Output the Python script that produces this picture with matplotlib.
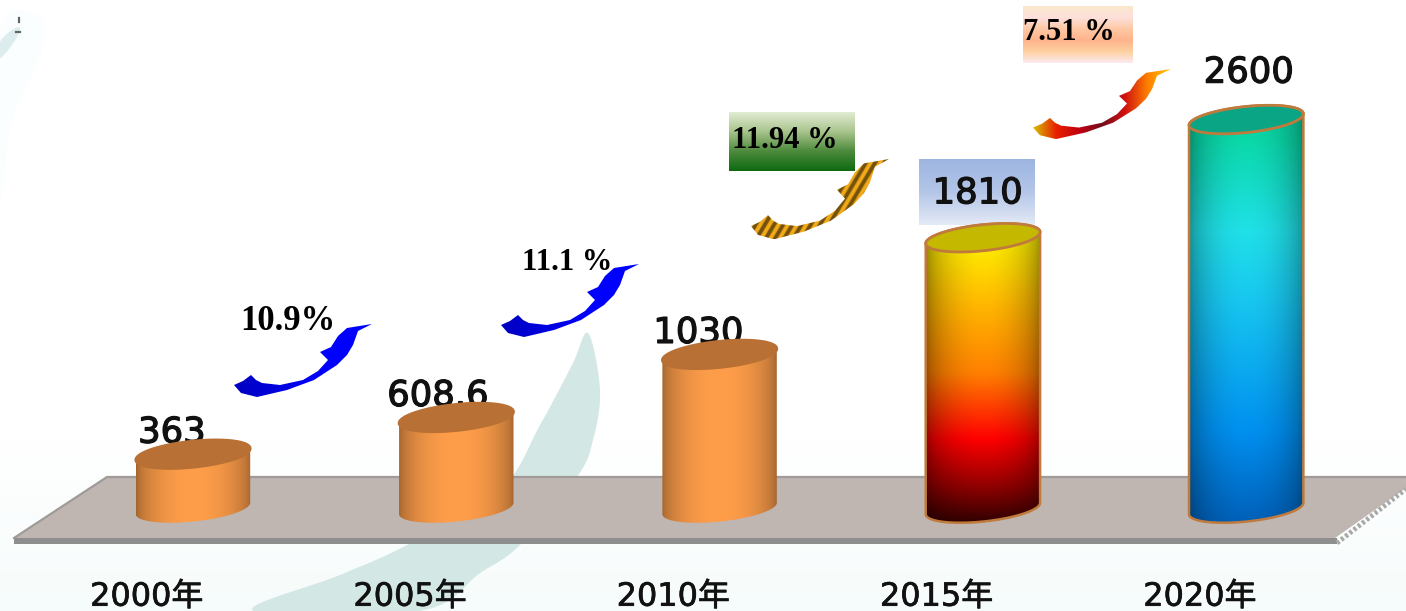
import numpy as np
import matplotlib
matplotlib.use("Agg")
import matplotlib.pyplot as plt
import matplotlib.patheffects as pe
from matplotlib.colors import LinearSegmentedColormap, to_rgb
from matplotlib.patches import Polygon

plt.rcParams['font.family'] = ['DejaVu Sans', 'Noto Sans CJK SC']

# Chart data
years = ["2000年", "2005年", "2010年", "2015年", "2020年"]
values = [363, 608.6, 1030, 1810, 2600]
value_labels = ["363", "608.6", "1030", "1810", "2600"]
rate_labels = ["10.9%", "11.1 %", "11.94 %", "7.51 %"]

W, H = 1406, 611
X0, X_STEP = 193, 263.3      # pixel of first bar, pixels per category
Y0, Y_SCALE = 508.5, 0.1496  # pixel of value 0, pixels per unit

fig = plt.figure(figsize=(W / 100, H / 100), dpi=100, facecolor="white")

# background layer in pixel units
bg = fig.add_axes([0, 0, 1, 1], zorder=0)
bg.axis("off")

# chart layer, scaled by category and value
ax = fig.add_axes([0, 0, 1, 1], zorder=1)
ax.patch.set_alpha(0)
ax.axis("off")


def smooth(pts, n=8):
    # closed Catmull-Rom through the outline points
    p = np.array(pts, dtype=float)
    out = []
    for i in range(len(p)):
        a, b, c, d = p[i - 1], p[i], p[(i + 1) % len(p)], p[(i + 2) % len(p)]
        for t in np.linspace(0, 1, n, endpoint=False):
            out.append(0.5 * (2 * b + (c - a) * t + (2 * a - 5 * b + 4 * c - d) * t ** 2
                              + (3 * b - a - 3 * c + d) * t ** 3))
    return np.array(out)


def ramp(stops, n=256):
    return LinearSegmentedColormap.from_list("g", stops)(np.linspace(0, 1, n))[:, :3]


def fill_image(axes, rgb, extent, verts, zorder):
    patch = Polygon(verts, closed=True, fc="none", ec="none", transform=axes.transData)
    axes.add_patch(patch)
    im = axes.imshow(rgb, extent=extent, aspect="auto", origin="upper", zorder=zorder,
                     interpolation="bilinear")
    im.set_clip_path(patch)


def vgrad(axes, x0, y0, x1, y1, stops, zorder=3):
    # box with a top to bottom gradient, pixel units
    rgb = ramp(stops)[:, None, :]
    axes.imshow(rgb, extent=(x0, x1, y1, y0), aspect="auto", origin="upper", zorder=zorder,
                interpolation="bilinear")


# very pale wash under the floor
wash = ramp(["#ffffff", "#f6fcfb"])[:, None, :]
bg.imshow(wash, extent=(0, W, H, 440), aspect="auto", origin="upper", zorder=0)
bg.add_patch(Polygon(smooth([(0, 30), (38, 15), (42, 50), (12, 120), (0, 200)]), closed=True,
                     fc="#fbfefe", ec="none", zorder=0.5))

# pale teal leaf shapes
leaf = smooth([(588, 333), (600, 390), (593, 440), (577, 477), (520, 545), (480, 573),
               (420, 611), (253, 611), (340, 575), (407, 545), (500, 490), (540, 425), (572, 365)])
bg.add_patch(Polygon(leaf, closed=True, fc="#d3e7e4", ec="none", zorder=1))
corner = smooth([(0, 42), (12, 30), (20, 28), (14, 42), (0, 58)])
bg.add_patch(Polygon(corner, closed=True, fc="#dcecef", ec="none", zorder=1))
bg.plot([19, 19], [18, 22], color="#606868", lw=1.6, zorder=1)
bg.plot([16, 20], [32, 32], color="#606868", lw=1.6, zorder=1)

# floor
bg.add_patch(Polygon([(14, 538), (107, 477), (1406, 477), (1406, 488), (1335, 538)],
                     closed=True, fc="#bfb6b2", ec="none", zorder=2))
bg.add_patch(Polygon([(14, 538), (1337, 538), (1337, 544), (14, 544)],
                     closed=True, fc="#8e8e8e", ec="none", zorder=2))
bg.plot([14, 107, 1406], [538, 477, 477], color="#a09a98", lw=1.6, zorder=2)
bg.plot([1337, 1406], [543, 489], color="#a8a8a8", lw=3.5, ls=(0, (0.6, 0.5)), zorder=2)

# curved arrows, outline of the first one
arrow = [(234, 385), (243, 381), (251, 375), (256, 380), (262, 383), (280, 385), (303, 380),
         (318, 371), (328, 360), (320, 352), (331, 347), (338, 336), (347, 328), (372, 324),
         (358, 331), (353, 345), (347, 355), (337, 365), (314, 380), (287, 390), (257, 397),
         (241, 393)]
arrow_moves = [(0, 0, 1.0), (267, -60, 1.0), (517, -165, 1.1), (799, -255, 0.96)]
ii, jj = np.meshgrid(np.arange(140), np.arange(80))
band = np.sin((ii * 0.9 + jj * 0.55) * 0.75)[..., None]
stripes = np.array(to_rgb("#f2aa18")) * (0.74 + 0.26 * np.clip(band * 3, -1, 1))
blue = ramp(["#0000c0", "#0000e0", "#0000ff", "#0000ff"])[None, :, :]
arrow_fills = [
    blue,
    blue,
    stripes,
    ramp(["#d8c000", "#e82000", "#c00010", "#701020", "#d01010", "#ff8000", "#ffc800"])[None, :, :],
]
for (dx, dy, s), rgb in zip(arrow_moves, arrow_fills):
    verts = np.array(arrow, dtype=float)
    verts[:, 1] = 324 + (verts[:, 1] - 324) * s
    verts += [dx, dy]
    fill_image(bg, rgb, (verts[:, 0].min(), verts[:, 0].max(), verts[:, 1].max(), verts[:, 1].min()),
               verts, 4)

# gradient label boxes
vgrad(bg, 729, 112, 855, 171, ["#e2ecd4", "#a8c48c", "#4c8a3c", "#0f6a10"])
vgrad(bg, 919, 159, 1035, 225, ["#9db5e0", "#b4c6e8", "#e4eaf6"])
vgrad(bg, 1023, 6, 1133, 63, ["#fbe8cc", "#fde0dc", "#ffc8a4", "#ffb48c", "#fdd0a0", "#fdeaf0"])

# growth rate labels
rate_x = [288, 567, 785, 1069]
rate_y = [321, 262, 141, 33]
rate_size = [25, 22, 22, 22]
for lab, x, y, sz in zip(rate_labels, rate_x, rate_y, rate_size):
    bg.text(x, y, lab, family="Liberation Serif", weight="bold", fontsize=sz,
            ha="center", va="center", color="black", zorder=6)

# cylinders
ROT = np.radians(6)
RY = 13


def ellipse(cx, val, t):
    # ellipse tilted on screen, returned in data units
    px = 57.5 * np.cos(t)
    py = RY * np.sin(t)
    sx = px * np.cos(ROT) - py * np.sin(ROT)
    sy = px * np.sin(ROT) + py * np.cos(ROT)
    return np.column_stack([cx + sx / X_STEP, val + sy / Y_SCALE])


body_colors = [["#ff9e4a", "#ff9e4a"], ["#ff9e4a", "#ff9e4a"], ["#ff9e4a", "#ff9e4a"],
               [(0, "#ffff00"), (0.3, "#ffb000"), (0.5, "#ff8000"), (0.72, "#ff0000"),
                (0.88, "#900000"), (1, "#300000")],
               [(0, "#08d0a0"), (0.08, "#0ad8a8"), (0.3, "#20e0e8"), (0.46, "#18c8f0"),
                (0.78, "#0090f0"), (1, "#0060b8")]]
cap_colors = ["#b87034", "#b87034", "#b87034", "#c4b800", "#0aa585"]
edge_colors = ["none", "none", "none", "#c07a3c", "#c07a3c"]
edge_shade = [0.62, 0.62, 0.62, 0.55, 0.6]

for i, v in enumerate(values):
    front = ellipse(i, 0, np.linspace(np.pi, 2 * np.pi, 60))
    back = ellipse(i, v, np.linspace(0, np.pi, 60))
    verts = np.vstack([front, back])
    horiz = np.sin(np.linspace(0, np.pi, 200)) ** 0.55
    horiz = edge_shade[i] + (1 - edge_shade[i]) * horiz
    vert = ramp(body_colors[i])
    rgb = vert[:, None, :] * horiz[None, :, None]
    ext = (verts[:, 0].min(), verts[:, 0].max(), verts[:, 1].min(), verts[:, 1].max())
    fill_image(ax, np.clip(rgb, 0, 1), ext, verts, 3)
    if edge_colors[i] != "none":
        ax.add_patch(Polygon(verts, closed=True, fc="none", ec=edge_colors[i], lw=1.8, zorder=4))
    cap = ellipse(i, v, np.linspace(0, 2 * np.pi, 120))
    ax.add_patch(Polygon(cap, closed=True, fc=cap_colors[i],
                         ec=edge_colors[i] if edge_colors[i] != "none" else cap_colors[i],
                         lw=2, zorder=5))

# value labels, partly hidden by the caps
label_gap = [30, 30, 30, 183, 200]
label_dx = [-0.08, -0.07, -0.08, -0.02, 0.01]
stroke = [pe.withStroke(linewidth=0.9, foreground="#111111")]
for i, v in enumerate(values):
    ax.text(i + label_dx[i], v + label_gap[i], value_labels[i], fontsize=25.5, color="#111111",
            ha="center", va="bottom", zorder=2, path_effects=stroke)

# year labels under the floor
thin = [pe.withStroke(linewidth=0.5, foreground="#111111")]
for i, y in enumerate(years):
    ax.text(i - 0.175, -593, y, fontsize=23, color="#111111", ha="center", va="center",
            zorder=6, path_effects=thin)

ax.set_xlim(-X0 / X_STEP, (W - X0) / X_STEP)
ax.set_ylim((Y0 - H) / Y_SCALE, Y0 / Y_SCALE)
bg.set_xlim(0, W)
bg.set_ylim(H, 0)

fig.savefig("out.png", dpi=100)
